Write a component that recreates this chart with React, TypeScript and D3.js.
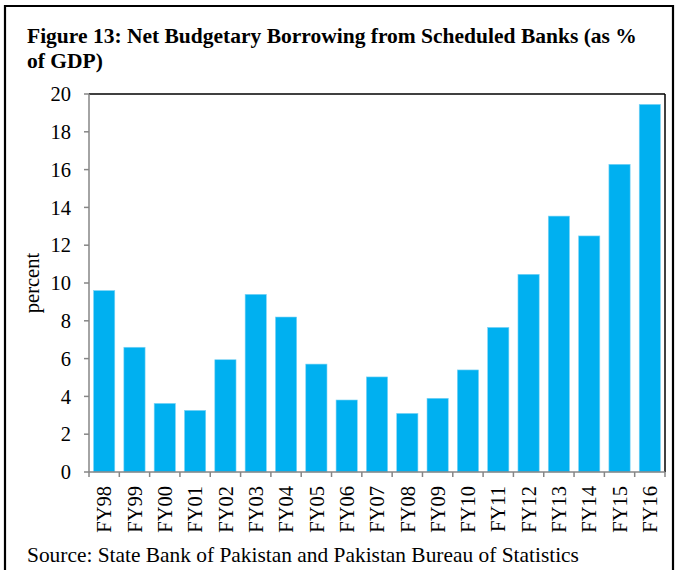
import React from "react";
import * as d3 from "d3";

const categories = ["FY98","FY99","FY00","FY01","FY02","FY03","FY04","FY05","FY06","FY07","FY08","FY09","FY10","FY11","FY12","FY13","FY14","FY15","FY16"];
const values = [9.6,6.6,3.63,3.26,5.94,9.4,8.2,5.71,3.81,5.03,3.1,3.9,5.4,7.65,10.46,13.54,12.49,16.28,19.45];
const yTicks = [0,2,4,6,8,10,12,14,16,18,20];
const titleLines = ["Figure 13: Net Budgetary Borrowing from Scheduled Banks (as %", "of GDP)"];
const yLabel = "percent";
const source = "Source: State Bank of Pakistan and Pakistan Bureau of Statistics";

const W = 676, H = 570;
const plot = { left: 89, right: 665, top: 94, bottom: 472 };
const font = "'Liberation Serif', 'Times New Roman', serif";

export default function App() {
  const x = d3.scaleBand<string>().domain(categories).range([plot.left, plot.right]).paddingInner(0.3).paddingOuter(0.15);
  const xb = d3.scaleBand<string>().domain(categories).range([plot.left, plot.right]);
  const y = d3.scaleLinear().domain([0, 20]).range([plot.bottom, plot.top]);
  const grey = "#868686";
  return (
    <div style={{ position: "absolute", left: 0, top: 0 }}>
      <svg width={W} height={H} style={{ display: "block", background: "#fff" }}>
        <path d={`M5,${H} V6 H673 V${H}`} fill="none" stroke="#000" strokeWidth={2.2} />
        {titleLines.map((t, i) => (
          <text key={i} x={27} y={43 + i * 25} fontFamily={font} fontWeight="bold" fontSize={21.5} fill="#000">{t}</text>
        ))}
        <line x1={plot.left} x2={plot.right} y1={plot.top} y2={plot.top} stroke="#000" strokeWidth={1.5} />
        <line x1={plot.right} x2={plot.right} y1={plot.top} y2={plot.bottom} stroke="#000" strokeWidth={1.5} />
        {categories.map((c, i) => (
          <rect key={c} x={x(c)} y={y(values[i])} width={x.bandwidth()} height={y(0) - y(values[i])} fill="#00B0F0" stroke="#7FD4F5" strokeWidth={0.6} />
        ))}
        <line x1={plot.left} x2={plot.left} y1={plot.top} y2={plot.bottom} stroke={grey} strokeWidth={1.5} />
        <line x1={plot.left} x2={plot.right} y1={plot.bottom} y2={plot.bottom} stroke={grey} strokeWidth={1.5} />
        {yTicks.map((t) => (
          <g key={t}>
            <line x1={plot.left - 5} x2={plot.left} y1={y(t)} y2={y(t)} stroke={grey} strokeWidth={1.5} />
            <text x={71} y={y(t)} dy="0.35em" textAnchor="end" fontFamily={font} fontSize={20.5} fill="#000">{t}</text>
          </g>
        ))}
        {categories.map((c) => (
          <line key={"t" + c} x1={xb(c)} x2={xb(c)} y1={plot.bottom} y2={plot.bottom + 5} stroke={grey} strokeWidth={1.5} />
        ))}
        <line x1={plot.right} x2={plot.right} y1={plot.bottom} y2={plot.bottom + 5} stroke={grey} strokeWidth={1.5} />
        {categories.map((c) => (
          <text key={"l" + c} transform={`translate(${(xb(c) ?? 0) + xb.bandwidth() / 2},${plot.bottom + 14}) rotate(-90)`} dy="0.35em" textAnchor="end" fontFamily={font} fontSize={20.5} fill="#000">{c}</text>
        ))}
        <text transform={`translate(32,${(plot.top + plot.bottom) / 2}) rotate(-90)`} dy="0.35em" textAnchor="middle" fontFamily={font} fontSize={20.5} fill="#000">{yLabel}</text>
        <text x={27} y={562} fontFamily={font} fontSize={21.4} fill="#000">{source}</text>
      </svg>
    </div>
  );
}
